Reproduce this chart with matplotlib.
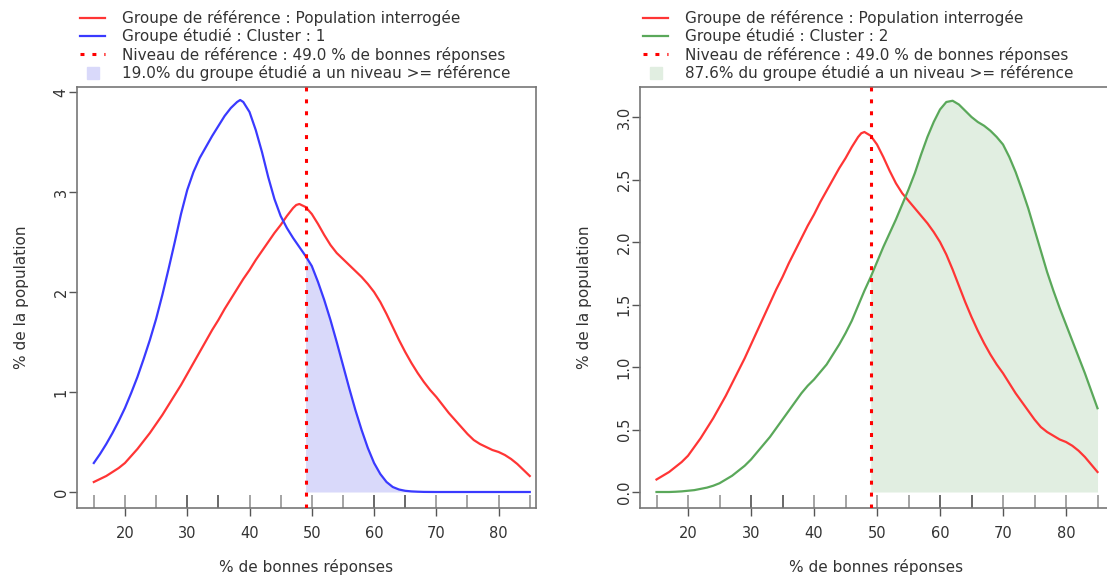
import matplotlib
matplotlib.use("Agg")
import matplotlib.pyplot as plt
from matplotlib.lines import Line2D
from matplotlib.transforms import blended_transform_factory
import numpy as np

# ---------------- data ----------------
ref_x = [15, 16, 17, 18, 19, 20, 21, 22, 23, 24, 25, 26, 27, 28, 29, 30, 31, 32, 33, 34, 35,
         36, 37, 38, 39, 40, 41, 42, 43, 44, 45, 46, 47, 47.5, 48, 49, 50, 51, 52, 53, 54, 55,
         56, 57, 58, 59, 60, 61, 62, 63, 64, 65, 66, 67, 68, 69, 70, 71, 72, 73, 74, 75,
         76, 77, 78, 79, 80, 81, 82, 83, 84, 85]
ref_y = [0.10, 0.13, 0.16, 0.20, 0.24, 0.29, 0.36, 0.43, 0.51, 0.59, 0.68, 0.77, 0.87, 0.97, 1.07, 1.18,
         1.29, 1.40, 1.51, 1.62, 1.72, 1.83, 1.93, 2.03, 2.13, 2.22, 2.32, 2.41, 2.50, 2.59, 2.67,
         2.76, 2.84, 2.87, 2.88, 2.85, 2.78, 2.68, 2.57, 2.47, 2.39, 2.33, 2.27, 2.21, 2.15, 2.08,
         2.00, 1.90, 1.78, 1.65, 1.52, 1.40, 1.29, 1.19, 1.10, 1.02, 0.95, 0.87, 0.79, 0.72, 0.65,
         0.58, 0.52, 0.48, 0.45, 0.42, 0.40, 0.37, 0.33, 0.28, 0.22, 0.16]

c1_x = [15, 16, 17, 18, 19, 20, 21, 22, 23, 24, 25, 26, 27, 28, 29, 30, 31, 32, 33, 34, 35,
        36, 37, 38, 38.5, 39, 40, 41, 42, 43, 44, 45, 46, 47, 48, 49, 50, 51, 52, 53, 54, 55,
        56, 57, 58, 59, 60, 61, 62, 63, 64, 65, 66, 67, 68, 70, 75, 80, 85]
c1_y = [0.29, 0.38, 0.48, 0.59, 0.71, 0.84, 0.99, 1.15, 1.33, 1.52, 1.73, 1.97, 2.23, 2.50, 2.78, 3.02,
        3.20, 3.34, 3.45, 3.56, 3.66, 3.76, 3.84, 3.90, 3.92, 3.90, 3.80, 3.62, 3.40, 3.15, 2.93,
        2.76, 2.64, 2.54, 2.45, 2.36, 2.26, 2.10, 1.92, 1.72, 1.50, 1.27, 1.04, 0.82, 0.62, 0.44,
        0.29, 0.18, 0.10, 0.05, 0.025, 0.012, 0.006, 0.003, 0.001, 0.0, 0.0, 0.0, 0.0]

c2_x = [15, 16, 17, 18, 19, 20, 21, 22, 23, 24, 25, 26, 27, 28, 29, 30, 31, 32, 33, 34, 35,
        36, 37, 38, 39, 40, 41, 42, 43, 44, 45, 46, 47, 48, 49, 50, 51, 52, 53, 54, 55,
        56, 57, 58, 59, 60, 61, 62, 63, 64, 65, 66, 67, 68, 69, 70, 71, 72, 73, 74, 75,
        76, 77, 78, 79, 80, 81, 82, 83, 84, 85]
c2_y = [0.0, 0.0, 0.0, 0.002, 0.005, 0.01, 0.015, 0.025, 0.035, 0.05, 0.07, 0.10, 0.13, 0.17, 0.21, 0.26,
        0.32, 0.38, 0.44, 0.51, 0.58, 0.65, 0.72, 0.79, 0.85, 0.90, 0.96, 1.02, 1.10, 1.18, 1.27,
        1.37, 1.49, 1.61, 1.72, 1.84, 1.96, 2.07, 2.18, 2.30, 2.42, 2.55, 2.70, 2.84, 2.96, 3.06,
        3.12, 3.13, 3.10, 3.05, 3.00, 2.96, 2.93, 2.89, 2.84, 2.78, 2.68, 2.56, 2.42, 2.27, 2.10,
        1.93, 1.76, 1.61, 1.47, 1.34, 1.21, 1.08, 0.95, 0.81, 0.67]

rug_values = [15, 20, 25, 30, 30, 35, 35, 40, 45, 50, 55, 60, 60, 65, 65, 70, 75, 80, 85]
ref_level = 49.0
pct_above = [19.0, 87.6]
cluster_names = ["1", "2"]
x_ticks = [20, 30, 40, 50, 60, 70, 80]
y_ticks_left = [0, 1, 2, 3, 4]
y_ticks_right = [0.0, 0.5, 1.0, 1.5, 2.0, 2.5, 3.0]

RED = "#ff3535"
BLUE = "#3a3aff"
GREEN = "#5aa85a"
FILL_BLUE = "#d9d9fa"
FILL_GREEN = "#e1eee1"
TXT = "#333333"

plt.rcParams['font.family'] = ['DejaVu Sans']

fig = plt.figure(figsize=(11.07, 5.78), dpi=100)
W, H = 1107, 578

def make_axes(x0, x1, y0, y1):
    return fig.add_axes([x0 / W, 1 - y1 / H, (x1 - x0) / W, (y1 - y0) / H])

ax1 = make_axes(77, 536, 87, 508)
ax2 = make_axes(640, 1112, 87, 508)

panels = [
    (ax1, c1_x, c1_y, BLUE, FILL_BLUE, (12.3, 86.0), (-0.16, 4.05), y_ticks_left, "%d", cluster_names[0], pct_above[0], 80),
    (ax2, c2_x, c2_y, GREEN, FILL_GREEN, (12.38, 87.3), (-0.128, 3.24), y_ticks_right, "%.1f", cluster_names[1], pct_above[1], 643),
]

for ax, gx, gy, gcol, fcol, xlim, ylim, yt, fmt, cname, pct, legx in panels:
    gx_a = np.asarray(gx)
    gy_a = np.asarray(gy)
    ax.fill_between(gx_a, 0, gy_a, where=gx_a >= ref_level, color=fcol, linewidth=0, zorder=1)
    ax.plot(ref_x, ref_y, color=RED, lw=1.6, zorder=3)
    ax.plot(gx, gy, color=gcol, lw=1.6, zorder=3)
    ax.axvline(ref_level, color="#ff0000", lw=2.2, linestyle=(0, (1.3, 2.6)), zorder=4)
    tr = blended_transform_factory(ax.transData, ax.transAxes)
    ax.vlines(rug_values, 0, 0.03, transform=tr, color="black", alpha=0.42, lw=1.2, zorder=2)
    ax.set_xlim(*xlim)
    ax.set_ylim(*ylim)
    ax.set_xticks(x_ticks)
    ax.set_yticks(yt)
    ax.set_yticklabels([fmt % v for v in yt], rotation=90, va="center")
    ax.tick_params(axis="both", direction="out", length=6, width=1, color="#555555",
                   labelsize=10.5, labelcolor=TXT)
    ax.tick_params(axis="x", pad=7)
    ax.tick_params(axis="y", pad=0)
    for s in ax.spines.values():
        s.set_color("#777777")
        s.set_linewidth(1.2)
    ax.set_xlabel("% de bonnes réponses", fontsize=11, color=TXT, labelpad=13)
    ax.set_ylabel("% de la population", fontsize=11, color=TXT, labelpad=18)

    handles = [
        Line2D([], [], color=RED, lw=1.6),
        Line2D([], [], color=gcol, lw=1.6),
        Line2D([], [], color="#ff0000", lw=2.2, linestyle=(0, (1.3, 2.6))),
        Line2D([], [], marker="s", color=fcol, linestyle="none", markersize=9),
    ]
    labels = [
        "Groupe de référence : Population interrogée",
        "Groupe étudié : Cluster : %s" % cname,
        "Niveau de référence : %.1f %% de bonnes réponses" % ref_level,
        "%.1f%% du groupe étudié a un niveau >= référence" % pct,
    ]
    fig.legend(handles, labels, loc="upper left", bbox_to_anchor=(legx / W, 1 - 10 / H),
               frameon=False, fontsize=11, handlelength=1.65, handletextpad=1.1,
               labelspacing=0.15, borderpad=0, borderaxespad=0, labelcolor=TXT)

fig.savefig("out.png", dpi=100)
